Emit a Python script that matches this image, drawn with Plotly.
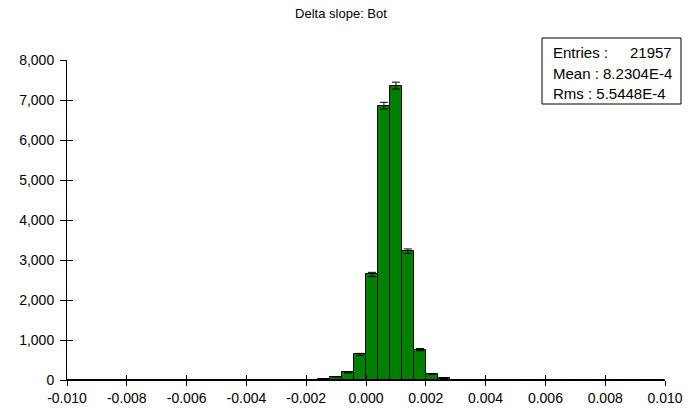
import numpy as np
import plotly.graph_objects as go

bin_width = 0.0004
bin_lefts = [round(-0.01 + i * bin_width, 4) for i in range(50)]
counts = [0, 0, 0, 2, 0, 1, 2, 1, 1, 0,
          0, 2, 0, 1, 2, 1, 0, 1, 2, 1,
          2, 25, 80, 190, 640, 2640, 6860, 7360, 3220, 760,
          150, 45, 3, 2, 1, 2, 1, 1, 2, 0,
          1, 2, 1, 1, 2, 1, 1, 1, 0, 0]

x_ticks = [-0.010, -0.008, -0.006, -0.004, -0.002, 0.000, 0.002, 0.004, 0.006, 0.008, 0.010]
x_tick_text = ["-0.010", "-0.008", "-0.006", "-0.004", "-0.002", "0.000", "0.002", "0.004", "0.006", "0.008", "0.010"]
y_ticks = [0, 1000, 2000, 3000, 4000, 5000, 6000, 7000, 8000]
y_tick_text = ["0", "1,000", "2,000", "3,000", "4,000", "5,000", "6,000", "7,000", "8,000"]

title = "Delta slope: Bot"
stats_lines = [("Entries :", "21957"), ("Mean :", "8.2304E-4"), ("Rms :", "5.5448E-4")]

centers = [l + bin_width / 2 for l in bin_lefts]
errs = [float(np.sqrt(c)) if c > 100 else 0 for c in counts]

font = "Liberation Sans, Arial, sans-serif"

L, R, T, B = 67, 665, 60, 380
W, H = R - L, B - T

def px(x):
    return (x - L) / W

def py(y):
    return (B - y) / H

fig = go.Figure()
fig.add_trace(go.Bar(
    x=centers, y=counts, width=bin_width,
    marker=dict(color="#008000", line=dict(color="black", width=1)),
    error_y=dict(type="data", array=errs, visible=True, color="black", thickness=1, width=4),
    showlegend=False, hoverinfo="skip",
))

fig.update_layout(
    width=688, height=409,
    margin=dict(l=L, r=688 - R, t=T, b=409 - B, autoexpand=False),
    paper_bgcolor="white", plot_bgcolor="white",
    bargap=0,
    font=dict(family=font, size=14, color="black"),
    title=dict(text=title, x=341 / 688, xref="container", xanchor="center",
               y=1 - 13 / 409, yref="container", yanchor="middle",
               font=dict(family=font, size=13, color="black")),
    xaxis=dict(range=[-0.01, 0.01], tickvals=x_ticks, ticktext=x_tick_text,
               ticks="outside", ticklen=5, tickcolor="black", tickwidth=1,
               showline=True, linecolor="black", linewidth=1, showgrid=False,
               zeroline=False, tickfont=dict(size=14), automargin=False),
    yaxis=dict(range=[0, 8000], tickvals=y_ticks, ticktext=y_tick_text,
               ticks="outside", ticklen=6, tickcolor="black", tickwidth=1,
               showline=True, linecolor="black", linewidth=1, showgrid=False,
               zeroline=False, tickfont=dict(size=14), automargin=False,
               ticklabelstandoff=3),
    xaxis2=dict(range=[-0.01, 0.01], tickvals=x_ticks, showticklabels=False,
                ticks="inside", ticklen=5, tickcolor="black", overlaying="x",
                showgrid=False, zeroline=False, anchor="y", automargin=False),
    yaxis2=dict(range=[0, 8000], tickvals=y_ticks, showticklabels=False,
                ticks="inside", ticklen=6, tickcolor="black", overlaying="y",
                showgrid=False, zeroline=False, anchor="x", automargin=False),
)
fig.add_trace(go.Scatter(x=[None], y=[None], xaxis="x2", yaxis="y2", showlegend=False))

# stats box
fig.add_shape(type="rect", xref="paper", yref="paper",
              x0=px(542), x1=px(681), y0=py(104), y1=py(38),
              line=dict(color="black", width=1), fillcolor="white")
line_y = [53, 73, 94]
for i, (k, v) in enumerate(stats_lines):
    yp = py(line_y[i])
    if i == 0:
        fig.add_annotation(xref="paper", yref="paper", x=px(551), y=yp,
                           text=k, showarrow=False, xanchor="left", yanchor="middle",
                           font=dict(size=15, family=font))
        fig.add_annotation(xref="paper", yref="paper", x=px(674), y=yp,
                           text=v, showarrow=False, xanchor="right", yanchor="middle",
                           font=dict(size=15, family=font))
    else:
        fig.add_annotation(xref="paper", yref="paper", x=px(551), y=yp,
                           text=k + " " + v, showarrow=False, xanchor="left", yanchor="middle",
                           font=dict(size=15, family=font))

fig.write_html("out.html")
